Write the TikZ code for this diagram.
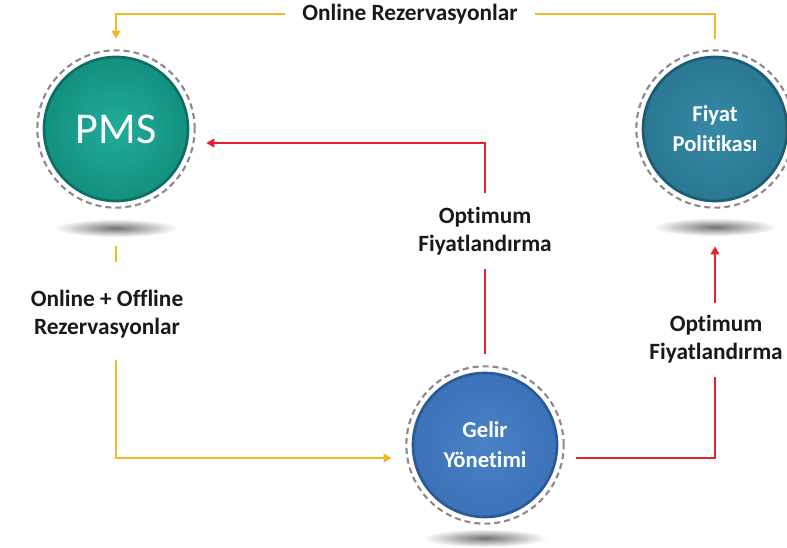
\documentclass[tikz,border=0pt]{standalone}
\usepackage{fontspec}
\setmainfont[Ligatures={NoCommon}]{Carlito}
\usetikzlibrary{arrows.meta,calc}
\definecolor{yl}{HTML}{F2B824}
\definecolor{rd}{HTML}{E2222F}
\definecolor{pmsL}{HTML}{22AC9B}
\definecolor{pmsC}{HTML}{13907F}
\definecolor{pmsD}{HTML}{0D6F63}
\definecolor{fiyL}{HTML}{3689A6}
\definecolor{fiyC}{HTML}{2A7893}
\definecolor{fiyD}{HTML}{1E5C74}
\definecolor{gelL}{HTML}{4A82C6}
\definecolor{gelC}{HTML}{3C72B8}
\definecolor{gelD}{HTML}{2B5A98}
\definecolor{ringc}{HTML}{8C8A8E}
\begin{document}
\begin{tikzpicture}[x=0.75pt,y=-0.75pt,
  lab/.style={font=\bfseries\fontsize{17.5}{21}\selectfont, align=center, fill=white, inner sep=1pt, text=black!90},
  circ/.style={circle, minimum size=108pt, inner sep=0pt, line width=2pt, text=white, align=center,
    font=\bfseries\fontsize{17}{22.5}\selectfont},
  ring/.style={draw=ringc, line width=1.6pt, dash pattern=on 4.5pt off 3pt},
  yline/.style={draw=yl, line width=2.2pt},
  rline/.style={draw=rd, line width=2.2pt},
  tip/.style={-{Triangle[length=6pt,width=6.5pt]}},
  shadowe/.style={inner color=black!55, outer color=white}
]
\useasboundingbox (0,0) rectangle (787,548);
% shadows
\shade[shadowe] (116,228) ellipse [x radius=62, y radius=9];
\shade[shadowe] (715,227) ellipse [x radius=62, y radius=9];
\shade[shadowe] (485,538) ellipse [x radius=62, y radius=9];
% circles
\node[circ, draw=pmsD, inner color=pmsL, outer color=pmsC, font=\fontsize{33}{36}\selectfont] (pms) at (116,129) {PMS};
\node[circ, draw=fiyD, inner color=fiyL, outer color=fiyC] (fiy) at (715,129) {Fiyat\\Politikası};
\node[circ, draw=gelD, inner color=gelL, outer color=gelC] (gel) at (485,445) {Gelir\\Yönetimi};
\draw[ring] (pms.center) circle[radius=59pt];
\draw[ring] (fiy.center) circle[radius=59pt];
\draw[ring] (gel.center) circle[radius=59pt];
% labels
\node[lab] (l1) at (410,14) {Online Rezervasyonlar};
\node[lab] (l2) at (485,231) {Optimum\\Fiyatlandırma};
\node[lab] (l3) at (716,339) {Optimum\\Fiyatlandırma};
\node[lab] (l4) at (107,314) {Online + Offline\\Rezervasyonlar};
% anchor points
\coordinate (pmsTop) at ($(pms.north)+(0,-17)$);
\coordinate (fiyTop) at ($(fiy.north)+(0,-17)$);
\coordinate (pmsR) at ($(pms.east)+(17,14)$);
\coordinate (pmsB) at ($(pms.south)+(0,44)$);
\coordinate (fiyB) at ($(fiy.south)+(0,44)$);
\coordinate (gelTop) at ($(gel.north)+(0,-18)$);
\coordinate (gelR) at ($(gel.east)+(18,13)$);
\coordinate (gelLft) at ($(gel.west)+(-20,13)$);
\coordinate (l4a) at ($(pmsB |- l4.north)+(0,-26)$);
\coordinate (l4b) at ($(pmsB |- l4.south)+(0,20)$);
\coordinate (l3a) at ($(fiy.center |- l3.south)+(0,12)$);
\coordinate (l3b) at ($(fiy.center |- l3.north)+(0,-10)$);
% connectors
\draw[yline] (fiyTop) |- ($(l1.east)+(16,0)$);
\draw[yline,tip] ($(l1.west)+(-16,0)$) -| (pmsTop);
\draw[rline] (gelTop) -- ($(l2.south)+(0,12)$);
\draw[rline,tip] ($(l2.north)+(0,-12)$) |- (pmsR);
\draw[rline] (gelR) -| (l3a);
\draw[rline,tip] (l3b) -- (fiyB);
\draw[yline] (pmsB) -- (l4a);
\draw[yline,tip] (l4b) |- (gelLft);
\end{tikzpicture}
\end{document}
